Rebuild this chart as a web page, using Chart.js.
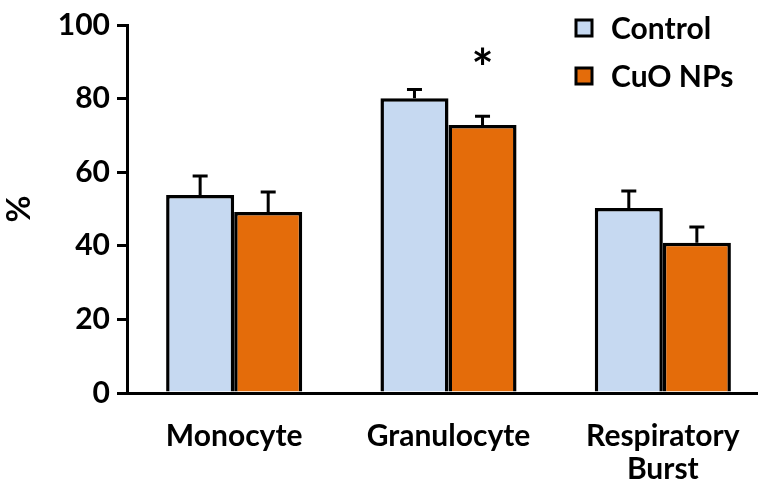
<!DOCTYPE html>
<html>
<head>
<meta charset="utf-8">
<script src="https://cdn.jsdelivr.net/npm/chart.js@4.4.0/dist/chart.umd.min.js"></script>
<style>
  html, body { margin: 0; padding: 0; background: #fff; overflow: hidden; }
  #wrap { width: 770px; height: 488px; }
</style>
</head>
<body>
<div id="wrap"><canvas id="chart"></canvas></div>
<script>
// Data
const categories = ['Monocyte', 'Granulocyte', ['Respiratory', 'Burst']];
const controlValues = [53.8, 80.1, 50.3];
const controlErrors = [5.2, 2.4, 4.6];
const cuoValues = [49.2, 72.8, 40.8];
const cuoErrors = [5.4, 2.4, 4.3];
const yTicks = [0, 20, 40, 60, 80, 100];
// significance marks: [dataset index, category index, y value]
const starMarks = [[1, 1, 91]];

const FONT = 'Lato, "Open Sans", sans-serif';

// upward-only error bars with caps
const errorBarPlugin = {
    id: 'errorBars',
    afterDatasetsDraw(chart) {
        const ctx = chart.ctx;
        const y = chart.scales.y;
        ctx.save();
        ctx.strokeStyle = '#000';
        ctx.lineWidth = 3;
        chart.data.datasets.forEach((ds, i) => {
            const meta = chart.getDatasetMeta(i);
            meta.data.forEach((bar, j) => {
                const top = y.getPixelForValue(ds.data[j] + ds.errors[j]);
                ctx.beginPath();
                ctx.moveTo(bar.x, bar.y);
                ctx.lineTo(bar.x, top);
                ctx.moveTo(bar.x - 7.5, top);
                ctx.lineTo(bar.x + 7.5, top);
                ctx.stroke();
            });
        });
        // significance asterisks
        ctx.fillStyle = '#000';
        ctx.font = 'bold 52px ' + FONT;
        ctx.textAlign = 'center';
        ctx.textBaseline = 'middle';
        starMarks.forEach(m => {
            const bar = chart.getDatasetMeta(m[0]).data[m[1]];
            ctx.fillText('*', bar.x, y.getPixelForValue(m[2]) + 12);
        });
        ctx.restore();
    }
};

// legend drawn in the top-right corner
const boxLegendPlugin = {
    id: 'boxLegend',
    afterDraw(chart) {
        const ctx = chart.ctx;
        ctx.save();
        ctx.font = 'bold 30px ' + FONT;
        ctx.textBaseline = 'middle';
        ctx.textAlign = 'left';
        chart.data.datasets.forEach((ds, i) => {
            const cy = 28 + i * 48;
            ctx.fillStyle = ds.backgroundColor;
            ctx.fillRect(576, cy - 8, 16, 16);
            ctx.strokeStyle = '#000';
            ctx.lineWidth = 3;
            ctx.strokeRect(576, cy - 8, 16, 16);
            ctx.fillStyle = '#000';
            ctx.fillText(ds.label, 611, cy + 1);
        });
        ctx.restore();
    }
};

const ctx = document.getElementById('chart').getContext('2d');
new Chart(ctx, {
    type: 'bar',
    data: {
        labels: categories,
        datasets: [{
            label: 'Control',
            data: controlValues,
            errors: controlErrors,
            backgroundColor: '#C6D9F1',
            borderColor: '#000',
            borderWidth: 3.5,
            borderSkipped: 'bottom'
        }, {
            label: 'CuO NPs',
            data: cuoValues,
            errors: cuoErrors,
            backgroundColor: '#E46C0A',
            borderColor: '#000',
            borderWidth: 3.5,
            borderSkipped: 'bottom'
        }]
    },
    options: {
        responsive: true,
        maintainAspectRatio: false,
        animation: false,
        layout: { padding: { top: 23, left: 0, right: 0, bottom: 0 } },
        datasets: {
            bar: { categoryPercentage: 0.635, barPercentage: 1 }
        },
        plugins: {
            legend: { display: false },
            tooltip: { enabled: false }
        },
        scales: {
            x: {
                grid: { display: false, drawTicks: false },
                border: { display: true, color: '#000', width: 3 },
                ticks: {
                    color: '#000',
                    padding: 27,
                    maxRotation: 0,
                    font: { family: FONT, size: 30, weight: 'bold', lineHeight: 1.1 }
                },
                afterFit(scale) { scale.height = 95; }
            },
            y: {
                min: 0,
                max: 100,
                afterBuildTicks(scale) { scale.ticks = yTicks.map(v => ({ value: v })); },
                grid: {
                    drawOnChartArea: false,
                    drawTicks: true,
                    tickLength: 10,
                    color: '#000',
                    lineWidth: 3
                },
                border: { display: true, color: '#000', width: 3 },
                ticks: {
                    color: '#000',
                    padding: 7,
                    font: { family: FONT, size: 30, weight: 'bold' }
                },
                title: {
                    display: true,
                    text: '%',
                    color: '#000',
                    padding: { top: 0, bottom: 6 },
                    font: { family: FONT, size: 33, weight: 'bold' }
                },
                afterFit(scale) { scale.width = 127; }
            }
        }
    },
    plugins: [errorBarPlugin, boxLegendPlugin]
});
</script>
</body>
</html>
